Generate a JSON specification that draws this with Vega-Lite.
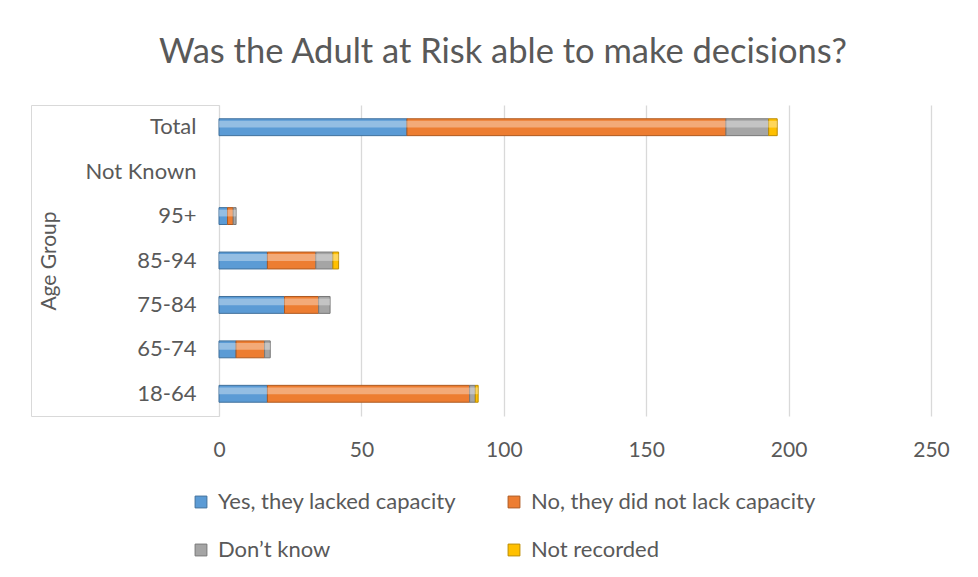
{
  "$schema": "https://vega.github.io/schema/vega-lite/v6.json",
  "background": "white",
  "padding": {"left": 30, "top": 35, "right": 0, "bottom": 0},
  "bounds": "flush",
  "spacing": 0,
  "title": {
    "text": "Was the Adult at Risk able to make decisions?",
    "font": "Lato",
    "fontSize": 34.5,
    "fontWeight": "normal",
    "color": "#595959",
    "anchor": "middle",
    "baseline": "top",
    "dx": 13,
    "offset": 34
  },
  "data": {
    "values": [
      {"Age Group": "18-64", "Response": "Yes, they lacked capacity", "Count": 17},
      {"Age Group": "18-64", "Response": "No, they did not lack capacity", "Count": 71},
      {"Age Group": "18-64", "Response": "Don’t know", "Count": 2},
      {"Age Group": "18-64", "Response": "Not recorded", "Count": 1},
      {"Age Group": "65-74", "Response": "Yes, they lacked capacity", "Count": 6},
      {"Age Group": "65-74", "Response": "No, they did not lack capacity", "Count": 10},
      {"Age Group": "65-74", "Response": "Don’t know", "Count": 2},
      {"Age Group": "75-84", "Response": "Yes, they lacked capacity", "Count": 23},
      {"Age Group": "75-84", "Response": "No, they did not lack capacity", "Count": 12},
      {"Age Group": "75-84", "Response": "Don’t know", "Count": 4},
      {"Age Group": "85-94", "Response": "Yes, they lacked capacity", "Count": 17},
      {"Age Group": "85-94", "Response": "No, they did not lack capacity", "Count": 17},
      {"Age Group": "85-94", "Response": "Don’t know", "Count": 6},
      {"Age Group": "85-94", "Response": "Not recorded", "Count": 2},
      {"Age Group": "95+", "Response": "Yes, they lacked capacity", "Count": 3},
      {"Age Group": "95+", "Response": "No, they did not lack capacity", "Count": 2},
      {"Age Group": "95+", "Response": "Don’t know", "Count": 1},
      {"Age Group": "Total", "Response": "Yes, they lacked capacity", "Count": 66},
      {"Age Group": "Total", "Response": "No, they did not lack capacity", "Count": 112},
      {"Age Group": "Total", "Response": "Don’t know", "Count": 15},
      {"Age Group": "Total", "Response": "Not recorded", "Count": 3}
    ]
  },
  "hconcat": [
    {
      "width": 188,
      "height": 311,
      "view": {"stroke": "#d9d9d9", "strokeWidth": 1},
      "mark": {"type": "tick", "opacity": 0},
      "encoding": {
        "y": {
          "field": "Age Group",
          "type": "nominal",
          "scale": {
            "domain": ["Total", "Not Known", "95+", "85-94", "75-84", "65-74", "18-64"],
            "paddingInner": 0.62,
            "paddingOuter": 0.31
          },
          "axis": {
            "orient": "left",
            "offset": -165,
            "ticks": false,
            "tickSize": 0,
            "domain": false,
            "labelPadding": 0,
            "labelFont": "Lato",
            "labelFontSize": 22,
            "labelColor": "#595959",
            "title": "Age Group",
            "titleFont": "Lato",
            "titleFontSize": 21,
            "titleFontWeight": "normal",
            "titleColor": "#595959",
            "titlePadding": 26
          }
        }
      }
    },
    {
      "width": 712,
      "height": 311,
      "view": {"stroke": null},
      "transform": [
        {"window": [{"op": "row_number", "as": "Rank"}], "groupby": ["Age Group"]}
      ],
      "encoding": {
        "y": {
          "field": "Age Group",
          "type": "nominal",
          "scale": {
            "domain": ["Total", "Not Known", "95+", "85-94", "75-84", "65-74", "18-64"],
            "paddingInner": 0.62,
            "paddingOuter": 0.31
          },
          "axis": null
        },
        "x": {
          "field": "Count",
          "type": "quantitative",
          "stack": "zero",
          "scale": {"domain": [0, 250], "nice": false},
          "axis": {
            "values": [0, 50, 100, 150, 200, 250],
            "grid": true,
            "gridColor": "#d9d9d9",
            "gridWidth": 1.3,
            "ticks": false,
            "domain": false,
            "labelFlush": false,
            "labelPadding": 23,
            "labelFont": "Lato",
            "labelFontSize": 21,
            "labelColor": "#595959",
            "title": null
          }
        },
        "order": {"field": "Rank", "type": "quantitative"}
      },
      "layer": [
        {
          "mark": {"type": "bar", "strokeWidth": 1},
          "encoding": {
            "color": {
              "field": "Response",
              "type": "nominal",
              "scale": {
                "domain": ["Yes, they lacked capacity", "No, they did not lack capacity", "Don’t know", "Not recorded"],
                "range": ["#5b9bd5", "#ed7d31", "#a5a5a5", "#ffc000"]
              },
              "legend": {
                "orient": "none",
                "legendX": 159,
                "legendY": 386,
                "columns": 2,
                "direction": "horizontal",
                "title": null,
                "symbolType": "square",
                "symbolSize": 140,
                "symbolStrokeWidth": 1,
                "labelFont": "Lato",
                "labelFontSize": 22,
                "labelColor": "#595959",
                "labelLimit": 400,
                "labelOffset": 6,
                "columnPadding": 46,
                "rowPadding": 26,
                "padding": 0
              }
            },
            "stroke": {
              "field": "Response",
              "type": "nominal",
              "scale": {
                "domain": ["Yes, they lacked capacity", "No, they did not lack capacity", "Don’t know", "Not recorded"],
                "range": ["#41719c", "#ae5a21", "#787878", "#bc8c00"]
              },
              "legend": null
            }
          }
        },
        {
          "mark": {
            "type": "bar",
            "fill": "white",
            "fillOpacity": 0.35,
            "strokeWidth": 0,
            "height": {"band": 0.4},
            "yOffset": -3
          },
          "encoding": {}
        }
      ]
    }
  ]
}
